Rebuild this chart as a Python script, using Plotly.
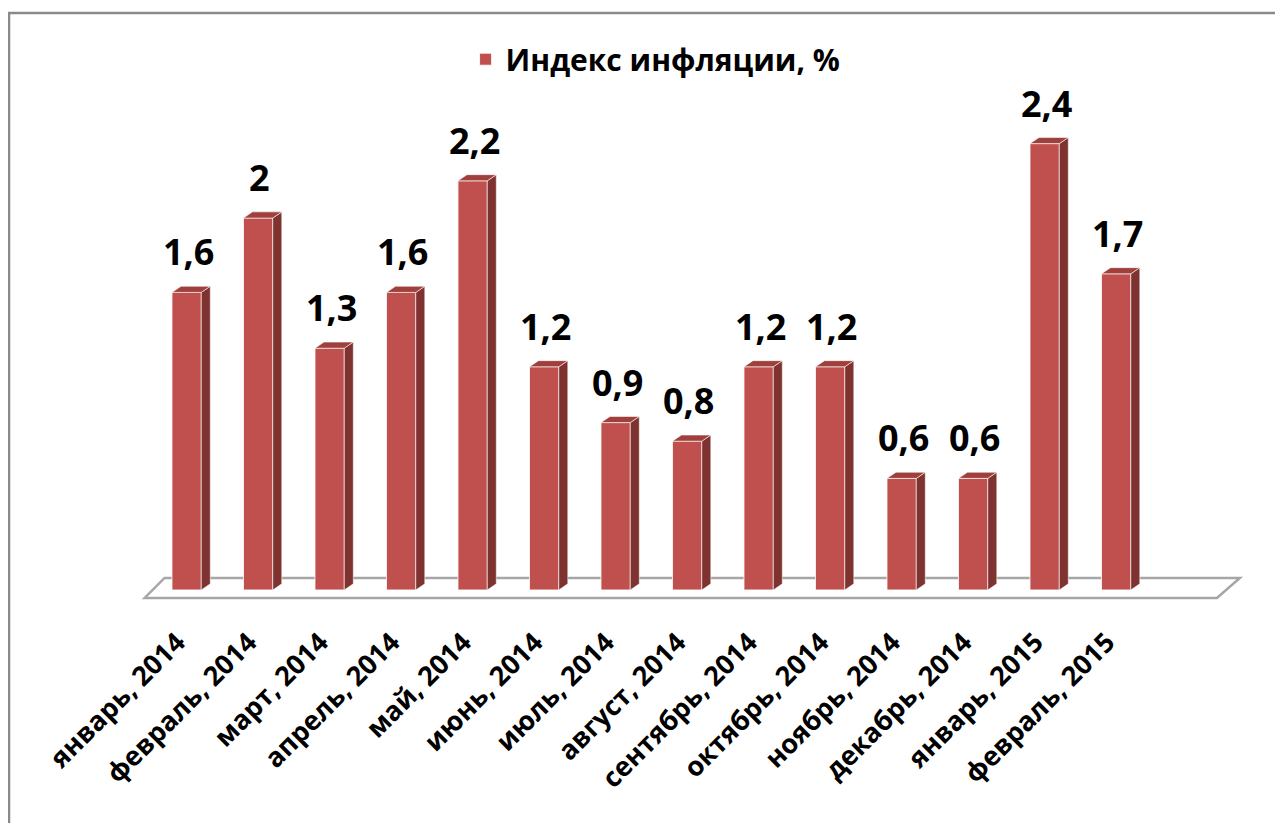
import plotly.graph_objects as go

months = ["январь, 2014", "февраль, 2014", "март, 2014", "апрель, 2014", "май, 2014",
          "июнь, 2014", "июль, 2014", "август, 2014", "сентябрь, 2014", "октябрь, 2014",
          "ноябрь, 2014", "декабрь, 2014", "январь, 2015", "февраль, 2015"]
values = [1.6, 2.0, 1.3, 1.6, 2.2, 1.2, 0.9, 0.8, 1.2, 1.2, 0.6, 0.6, 2.4, 1.7]
series_name = "Индекс инфляции, %"

FRONT = "#c0504d"
SIDE = "#7e3330"
TOP = "#a0403d"
FONT = "Open Sans"

xs = list(range(len(values)))
W = 0.41     # front face width (category units)
DX = 0.126   # depth offset in x
DY = 0.033   # depth offset in y
LABEL_OFFSET = -0.13  # rotated tick labels sit slightly left of the bar centre

side_x, side_y, top_x, top_y = [], [], [], []
for x, v in zip(xs, values):
    xr = x + W / 2
    xl = x - W / 2
    side_x += [xr, xr + DX, xr + DX, xr, xr, None]
    side_y += [0, DY, v + DY, v, 0, None]
    top_x += [xl, xl + DX, xr + DX, xr, xl, None]
    top_y += [v, v + DY, v + DY, v, v, None]

fig = go.Figure()
fig.add_trace(go.Scatter(x=side_x, y=side_y, fill="toself", fillcolor=SIDE, mode="lines",
                         line=dict(color="rgba(255,255,255,0.7)", width=0.8),
                         showlegend=False, hoverinfo="skip"))
fig.add_trace(go.Scatter(x=top_x, y=top_y, fill="toself", fillcolor=TOP, mode="lines",
                         line=dict(color="rgba(255,255,255,0.7)", width=0.8),
                         showlegend=False, hoverinfo="skip"))
fig.add_trace(go.Bar(x=xs, y=values, width=W, name=series_name,
                     marker=dict(color=FRONT, line=dict(color="rgba(255,255,255,0.8)", width=1)),
                     showlegend=True))

for x, v in zip(xs, values):
    fig.add_annotation(x=x + 0.02, y=v, text=f"{v:g}".replace(".", ","), showarrow=False,
                       yanchor="bottom", yshift=14,
                       font=dict(family=FONT, size=36, color="black", weight="bold"))

# floor of the pseudo-3D plot
fig.add_shape(type="path", xref="x", yref="y", layer="below",
              path="M -0.587 -0.043 L 14.41 -0.043 L 14.73 0.0645 L -0.308 0.0645 Z",
              line=dict(color="#a6a6a6", width=2.5), fillcolor="rgba(0,0,0,0)")

# outer chart border
fig.add_shape(type="rect", xref="paper", yref="paper", x0=-0.1108, y0=1.129, x1=1.2, y1=-0.6,
              line=dict(color="#8a8a8a", width=2.5))

fig.update_layout(
    width=1283, height=823,
    margin=dict(l=125, r=39, t=72, b=231),
    paper_bgcolor="white", plot_bgcolor="white",
    bargap=0.5,
    showlegend=True,
    legend=dict(orientation="h", x=0.467, xanchor="center", y=1.04, yanchor="middle",
                font=dict(family=FONT, size=30, color="black", weight="bold"),
                bgcolor="rgba(0,0,0,0)"),
    xaxis=dict(range=[-0.75, 14.9], tickmode="array",
               tickvals=[x + LABEL_OFFSET for x in xs], ticktext=months,
               tickangle=-45, showgrid=False, zeroline=False, showline=False, ticks="",
               ticklabelstandoff=20,
               tickfont=dict(family=FONT, size=27, color="black", weight="bold")),
    yaxis=dict(range=[-0.054, 2.742], visible=False, showgrid=False, zeroline=False),
)

fig.write_html("out.html")
